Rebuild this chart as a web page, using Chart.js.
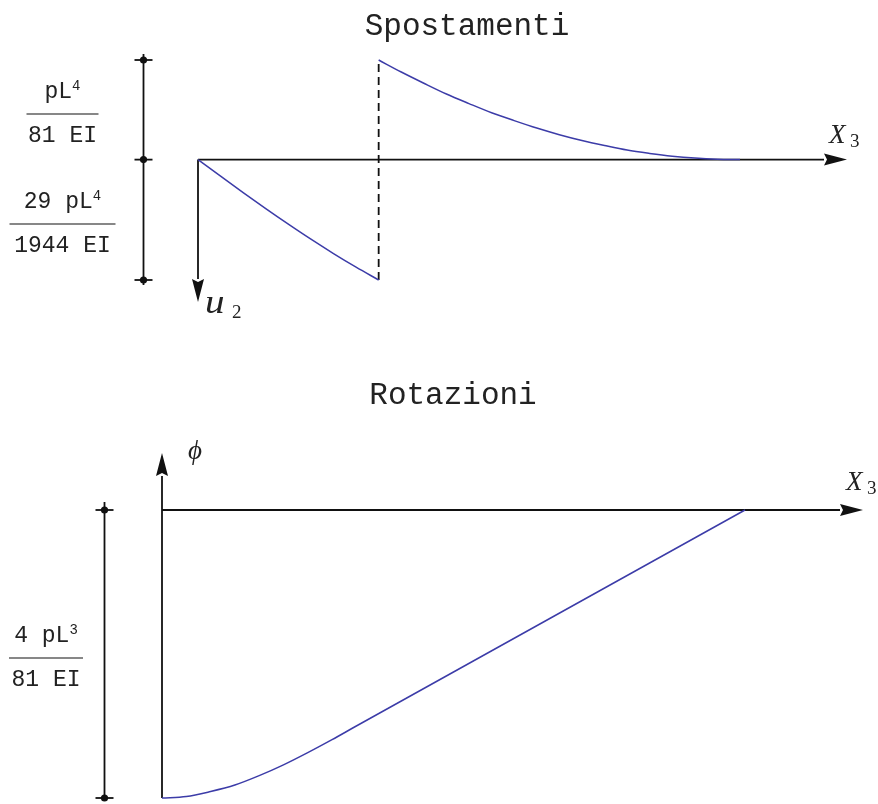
<!DOCTYPE html>
<html>
<head>
<meta charset="utf-8">
<script src="https://cdn.jsdelivr.net/npm/chart.js@4/dist/chart.umd.min.js"></script>
<style>
html, body { margin: 0; padding: 0; background: #fff; }
#wrap { position: relative; width: 878px; height: 804px; }
canvas { position: absolute; left: 0; }
</style>
</head>
<body>
<div id="wrap">
  <canvas id="spost" width="878" height="380" style="top:0"></canvas>
  <canvas id="rot" width="878" height="424" style="top:380px"></canvas>
</div>
<script>
// abscissa in units of L, u2 in units of pL^4/(1944 EI), positive downwards
var xLeft = [0, 1/24, 1/12, 1/8, 1/6, 5/24, 1/4, 7/24, 1/3];
var uLeft = [0, 3.99, 7.94, 11.81, 15.56, 19.18, 22.63, 25.91, 29];
var xRight = [1/3, 3/8, 5/12, 11/24, 1/2, 13/24, 7/12, 5/8, 2/3, 17/24, 3/4, 19/24, 5/6, 7/8, 11/12, 23/24, 1];
var uRight = [-24, -21.1, -18.4, -15.8, -13.5, -11.3, -9.4, -7.6, -6.0, -4.6, -3.4, -2.3, -1.5, -0.84, -0.38, -0.1, 0];
var xJump = [1/3, 1/3];
var uJump = [29, -24];
var uTicks = [-24, 0, 29];

// rotations in units of pL^3/(81 EI)
var xRot = [0, 1/24, 1/12, 1/8, 1/6, 5/24, 1/4, 7/24, 1/3, 1/2, 2/3, 5/6, 1];
var phiRot = [-4, -3.98, -3.91, -3.82, -3.69, -3.54, -3.37, -3.19, -3, -2.25, -1.5, -0.75, 0];
var phiTicks = [0, -4];

var BLUE = '#3c3ca8';
var INK = '#111';
var MONO = '"Liberation Mono", "Courier New", monospace';
var SERIF = '"Liberation Serif", "Times New Roman", serif';

function pts(xs, ys) {
    return xs.map(function(x, i) { return { x: x, y: ys[i] }; });
}

function arrow(ctx, x0, y0, x1, y1) {
    var len = 23, half = 6;
    var a = Math.atan2(y1 - y0, x1 - x0);
    var bx = x1 - len * Math.cos(a), by = y1 - len * Math.sin(a);
    ctx.beginPath();
    ctx.moveTo(x0, y0);
    ctx.lineTo(bx, by);
    ctx.stroke();
    ctx.beginPath();
    ctx.moveTo(x1, y1);
    ctx.lineTo(bx + half * Math.sin(a), by - half * Math.cos(a));
    ctx.lineTo(bx + 3 * Math.cos(a), by + 3 * Math.sin(a));
    ctx.lineTo(bx - half * Math.sin(a), by + half * Math.cos(a));
    ctx.closePath();
    ctx.fill();
}

function dimBar(ctx, x, yTop, yBot, ticks) {
    ctx.beginPath();
    ctx.moveTo(x, yTop);
    ctx.lineTo(x, yBot);
    ctx.stroke();
    ticks.forEach(function(y) {
        ctx.beginPath();
        ctx.moveTo(x - 9, y);
        ctx.lineTo(x + 9, y);
        ctx.stroke();
        ctx.beginPath();
        ctx.arc(x, y, 3.6, 0, 2 * Math.PI);
        ctx.fill();
    });
}

// parts: [text, size, rise, style]
function runs(ctx, parts, family, x, y, center) {
    var w = 0;
    parts.forEach(function(p) {
        ctx.font = (p[3] || '') + ' ' + p[1] + 'px ' + family;
        w += ctx.measureText(p[0]).width;
    });
    var cx = center ? x - w / 2 : x;
    ctx.textAlign = 'left';
    ctx.textBaseline = 'alphabetic';
    parts.forEach(function(p) {
        ctx.font = (p[3] || '') + ' ' + p[1] + 'px ' + family;
        ctx.fillText(p[0], cx, y - (p[2] || 0));
        cx += ctx.measureText(p[0]).width;
    });
}

function fraction(ctx, num, den, cx, yLine, half) {
    runs(ctx, num, MONO, cx, yLine - 16, true);
    runs(ctx, den, MONO, cx, yLine + 28, true);
    ctx.beginPath();
    ctx.moveTo(cx - half, yLine);
    ctx.lineTo(cx + half, yLine);
    ctx.lineWidth = 1.2;
    ctx.stroke();
}

function setInk(ctx) {
    ctx.strokeStyle = INK;
    ctx.fillStyle = INK;
    ctx.lineWidth = 1.8;
}

var spostDecor = {
    id: 'spostDecor',
    beforeDatasetsDraw: function(chart) {
        var ctx = chart.ctx, sx = chart.scales.x, sy = chart.scales.y;
        var x0 = sx.getPixelForValue(0), y0 = sy.getPixelForValue(0);
        ctx.save();
        setInk(ctx);
        arrow(ctx, x0, y0, 847, y0);
        arrow(ctx, x0, y0, x0, 302);
        var tk = uTicks.map(function(v) { return sy.getPixelForValue(v); });
        dimBar(ctx, 143.5, tk[0] - 6, tk[2] + 5, tk);
        ctx.restore();
    },
    afterDraw: function(chart) {
        var ctx = chart.ctx;
        ctx.save();
        setInk(ctx);
        ctx.fillStyle = '#222';
        runs(ctx, [['Spostamenti', 31]], MONO, 467, 35, true);
        fraction(ctx, [['pL', 23], ['4', 14, 8]], [['81 EI', 23]], 62.5, 114, 36);
        fraction(ctx, [['29 pL', 23], ['4', 14, 8]], [['1944 EI', 23]], 62.5, 224, 53);
        runs(ctx, [['X', 27, 0, 'italic']], SERIF, 829, 143);
        runs(ctx, [['3', 19]], SERIF, 850, 147);
        // slightly widened italic u
        ctx.save();
        ctx.translate(205, 313);
        ctx.scale(1.15, 1);
        runs(ctx, [['u', 34, 0, 'italic']], SERIF, 0, 0);
        ctx.restore();
        runs(ctx, [['2', 19]], SERIF, 232, 318);
        ctx.restore();
    }
};

var rotDecor = {
    id: 'rotDecor',
    beforeDatasetsDraw: function(chart) {
        var ctx = chart.ctx, sx = chart.scales.x, sy = chart.scales.y;
        var x0 = sx.getPixelForValue(0), y0 = sy.getPixelForValue(0);
        var yBot = sy.getPixelForValue(-4);
        ctx.save();
        setInk(ctx);
        arrow(ctx, x0, y0, 863, y0);
        arrow(ctx, x0, yBot, x0, 73);
        var tk = phiTicks.map(function(v) { return sy.getPixelForValue(v); });
        dimBar(ctx, 104.5, tk[0] - 8, tk[1] + 1, tk);
        ctx.restore();
    },
    afterDraw: function(chart) {
        var ctx = chart.ctx;
        ctx.save();
        setInk(ctx);
        ctx.fillStyle = '#222';
        runs(ctx, [['Rotazioni', 31]], MONO, 453, 24, true);
        fraction(ctx, [['4 pL', 23], ['3', 14, 8]], [['81 EI', 23]], 46, 278, 37);
        runs(ctx, [['X', 27, 0, 'italic']], SERIF, 846, 110);
        runs(ctx, [['3', 19]], SERIF, 867, 114);
        runs(ctx, [['\u03D5', 27, 0, 'italic']], SERIF, 188, 79);
        ctx.restore();
    }
};

var common = {
    responsive: false,
    animation: false,
    events: [],
    plugins: { legend: { display: false }, tooltip: { enabled: false }, title: { display: false } }
};

function curve(xs, ys) {
    return {
        data: pts(xs, ys),
        showLine: true,
        borderColor: BLUE,
        borderWidth: 1.5,
        pointRadius: 0,
        cubicInterpolationMode: 'monotone',
        clip: 6
    };
}

new Chart(document.getElementById('spost').getContext('2d'), {
    type: 'scatter',
    data: {
        datasets: [curve(xLeft, uLeft), curve(xRight, uRight), {
            data: pts(xJump, uJump),
            showLine: true,
            borderColor: INK,
            borderWidth: 1.8,
            borderDash: [8, 5],
            pointRadius: 0,
            clip: 6
        }]
    },
    options: Object.assign({}, common, {
        layout: { padding: { left: 198, right: 138, top: 60, bottom: 100 } },
        scales: {
            x: { type: 'linear', min: 0, max: 1, display: false },
            y: { type: 'linear', min: -24, max: 29, reverse: true, display: false }
        }
    }),
    plugins: [spostDecor]
});

new Chart(document.getElementById('rot').getContext('2d'), {
    type: 'scatter',
    data: { datasets: [curve(xRot, phiRot)] },
    options: Object.assign({}, common, {
        layout: { padding: { left: 162, right: 133, top: 130, bottom: 6 } },
        scales: {
            x: { type: 'linear', min: 0, max: 1, display: false },
            y: { type: 'linear', min: -4, max: 0, display: false }
        }
    }),
    plugins: [rotDecor]
});
</script>
</body>
</html>
